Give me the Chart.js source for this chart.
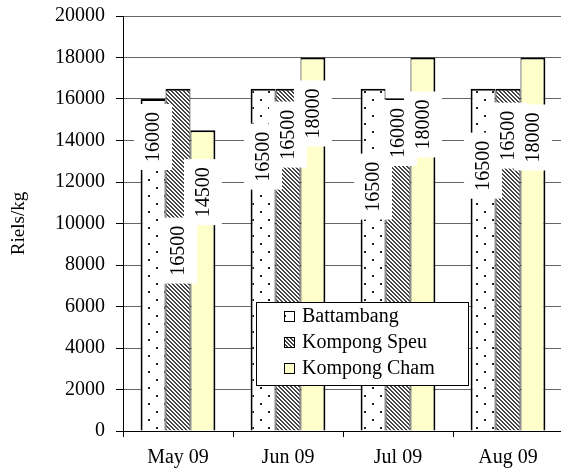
<!DOCTYPE html>
<html>
<head>
<meta charset="utf-8">
<script src="https://cdn.jsdelivr.net/npm/chart.js@4.4.1/dist/chart.umd.min.js"></script>
<style>
  html, body { margin: 0; padding: 0; background: #fff; overflow: hidden; }
  #wrap { width: 563px; height: 471px; }
</style>
</head>
<body>
<div id="wrap"><canvas id="myChart"></canvas></div>
<script>
const months = ['May 09', 'Jun 09', 'Jul 09', 'Aug 09'];
const battambang = [16000, 16500, 16500, 16500];
const kompongSpeu = [16500, 16500, 16000, 16500];
const kompongCham = [14500, 18000, 18000, 18000];
const yTicks = [0, 2000, 4000, 6000, 8000, 10000, 12000, 14000, 16000, 18000, 20000];

const FONT = '"Liberation Serif", "Times New Roman", serif';

// bar fills
function dotPattern() {
    const c = document.createElement('canvas');
    c.width = 16; c.height = 16;
    const g = c.getContext('2d');
    g.fillStyle = '#fff'; g.fillRect(0, 0, 16, 16);
    g.fillStyle = '#222';
    g.fillRect(4, 3, 2, 2);
    g.fillRect(12, 11, 2, 2);
    return g.createPattern(c, 'repeat');
}
function hatchPattern() {
    const c = document.createElement('canvas');
    c.width = 4; c.height = 4;
    const g = c.getContext('2d');
    g.fillStyle = '#fff'; g.fillRect(0, 0, 4, 4);
    g.fillStyle = '#444';
    for (let i = 0; i < 4; i++) {
        g.fillRect(i, i, 1, 1);
        g.fillRect((i + 1) % 4, i, 1, 1);
    }
    return g.createPattern(c, 'repeat');
}

// white-boxed vertical value labels, offset (px) below each bar top
const valueLabels = {
    id: 'valueLabels',
    afterDatasetsDraw(chart) {
        const ctx = chart.ctx;
        ctx.save();
        ctx.font = '20px ' + FONT;
        chart.data.datasets.forEach((ds, i) => {
            const meta = chart.getDatasetMeta(i);
            meta.data.forEach((bar, j) => {
                const txt = String(ds.data[j]);
                const cy = bar.y + ds.labelOffset[j];
                const w = ctx.measureText(txt).width;
                ctx.save();
                ctx.translate(bar.x, cy);
                ctx.rotate(-Math.PI / 2);
                ctx.fillStyle = '#fff';
                ctx.fillRect(-w / 2 - 8, -19, w + 16, 38);
                ctx.fillStyle = '#000';
                ctx.textAlign = 'center';
                ctx.textBaseline = 'middle';
                ctx.fillText(txt, 0, 1);
                ctx.restore();
            });
        });
        ctx.restore();
    }
};

// boxed legend inside the plot
const boxLegend = {
    id: 'boxLegend',
    afterDraw(chart) {
        const ctx = chart.ctx;
        const x = 256, y = 302, w = 212, h = 83;
        ctx.save();
        ctx.fillStyle = '#fff';
        ctx.fillRect(x, y, w, h);
        ctx.strokeStyle = '#000';
        ctx.lineWidth = 1;
        ctx.strokeRect(x + 0.5, y + 0.5, w, h);
        ctx.font = '20px ' + FONT;
        ctx.textBaseline = 'middle';
        chart.data.datasets.forEach((ds, i) => {
            const cy = y + 14 + i * 26;
            ctx.fillStyle = ds.backgroundColor;
            ctx.fillRect(284, cy - 5, 11, 11);
            ctx.strokeRect(284.5, cy - 4.5, 10, 10);
            ctx.fillStyle = '#000';
            ctx.fillText(ds.label, 302, cy + 1);
        });
        ctx.restore();
    }
};

const ctx = document.getElementById('myChart').getContext('2d');
const myChart = new Chart(ctx, {
    type: 'bar',
    data: {
        labels: months,
        datasets: [{
            label: 'Battambang',
            data: battambang,
            backgroundColor: dotPattern(),
            borderColor: '#000',
            borderWidth: { top: 2, left: 2, right: 1, bottom: 0 },
            labelOffset: [38, 68, 98, 77]
        }, {
            label: 'Kompong Speu',
            data: kompongSpeu,
            backgroundColor: hatchPattern(),
            borderColor: '#000',
            borderWidth: { top: 2, left: 1, right: 1, bottom: 0 },
            labelOffset: [162, 46, 34, 47]
        }, {
            label: 'Kompong Cham',
            data: kompongCham,
            backgroundColor: '#ffffcc',
            borderColor: '#000',
            borderWidth: { top: 2, left: 1, right: 2, bottom: 0 },
            labelOffset: [62, 56, 67, 80]
        }]
    },
    options: {
        responsive: true,
        maintainAspectRatio: false,
        animation: false,
        layout: { padding: 0 },
        datasets: {
            bar: { categoryPercentage: 0.68, barPercentage: 1.0 }
        },
        plugins: {
            legend: { display: false },
            tooltip: { enabled: false }
        },
        scales: {
            x: {
                offset: true,
                grid: {
                    offset: true,
                    drawOnChartArea: false,
                    tickLength: 6,
                    tickColor: '#000'
                },
                border: { color: '#000', width: 1 },
                ticks: {
                    color: '#000',
                    font: { family: FONT, size: 20 },
                    padding: 9,
                    maxRotation: 0
                },
                afterFit(scale) { scale.height = 40; }
            },
            y: {
                min: 0,
                max: 20000,
                afterBuildTicks(scale) { scale.ticks = yTicks.map(v => ({ value: v })); },
                grid: {
                    color: '#666',
                    tickColor: '#000',
                    tickLength: 7
                },
                border: { color: '#000', width: 1 },
                ticks: {
                    color: '#000',
                    font: { family: FONT, size: 20 },
                    padding: 11,
                    callback: v => String(v)
                },
                title: {
                    display: true,
                    text: 'Riels/kg',
                    color: '#000',
                    font: { family: FONT, size: 19 },
                    padding: { top: 8, bottom: 0 }
                },
                afterFit(scale) {
                    scale.width = 123;
                    scale.paddingTop = 16;
                }
            }
        }
    },
    plugins: [valueLabels, boxLegend]
});
</script>
</body>
</html>
